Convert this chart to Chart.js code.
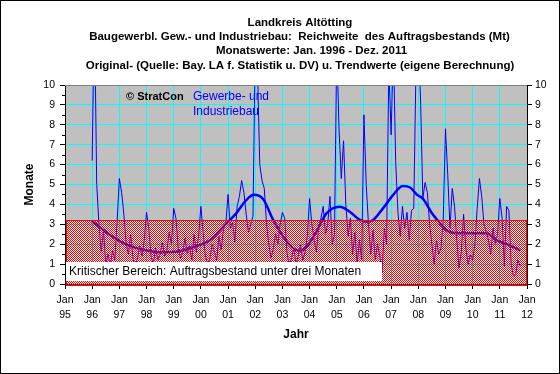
<!DOCTYPE html>
<html><head><meta charset="utf-8">
<script src="https://cdn.jsdelivr.net/npm/chart.js@4/dist/chart.umd.min.js"></script>
<style>html,body{margin:0;padding:0;background:#fff}canvas{display:block}</style>
</head><body>
<canvas id="c" width="560" height="374"></canvas>
<script>
// ---- Data ----
const titleLines = [
  'Landkreis Altötting',
  'Baugewerbl. Gew.- und Industriebau:  Reichweite  des Auftragsbestands (Mt)',
  'Monatswerte: Jan. 1996 - Dez. 2011',
  'Original- (Quelle: Bay. LA f. Statistik u. DV) u. Trendwerte (eigene Berechnung)'
];
const xTickYears = [1995,1996,1997,1998,1999,2000,2001,2002,2003,2004,2005,2006,2007,2008,2009,2010,2011,2012];
const xTickLabels = ['95','96','97','98','99','00','01','02','03','04','05','06','07','08','09','10','11','12'];
const firstYear = 1996;

// monthly values (Monate), Jan..Dec of each year
const v1996 = [6.2, 14, 5.0, 3.0, 1.6, 2.7, 1.0, 1.5, 0.9, 1.7, 1.2, 3.1];
const v1997 = [5.3, 4.6, 3.5, 2.0, 1.5, 2.5, 1.3, 0.9, 1.3, 1.9, 1.4, 2.2];
const v1998 = [3.6, 2.8, 1.4, 1.0, 1.8, 1.2, 1.5, 2.1, 1.4, 1.7, 2.6, 2.0];
const v1999 = [3.8, 3.3, 1.8, 1.3, 1.6, 2.3, 1.5, 1.9, 1.2, 2.5, 1.6, 2.4];
const v2000 = [3.9, 2.6, 1.4, 1.0, 1.3, 2.0, 1.6, 1.2, 2.4, 1.7, 2.8, 3.0];
const v2001 = [4.5, 2.8, 3.1, 2.1, 3.9, 4.4, 5.2, 4.6, 3.5, 2.6, 3.0, 3.4];
const v2002 = [12, 10.8, 6.0, 5.2, 4.8, 3.0, 2.0, 1.3, 1.8, 2.5, 2.0, 3.0];
const v2003 = [3.6, 3.3, 1.6, 0.9, 1.3, 1.8, 1.0, 1.4, 2.0, 1.2, 1.6, 2.4];
const v2004 = [4.3, 3.0, 2.2, 1.6, 2.8, 3.3, 3.9, 2.5, 3.0, 4.4, 2.0, 2.5];
const v2005 = [12, 7.8, 5.3, 7.2, 4.0, 2.4, 3.3, 1.5, 2.6, 1.0, 2.2, 1.2];
const v2006 = [8.5, 5.0, 3.0, 1.5, 2.7, 1.2, 2.0, 1.4, 0.6, 2.8, 2.0, 11];
const v2007 = [7.5, 12, 6.2, 3.6, 2.4, 3.9, 2.8, 3.6, 2.2, 3.7, 3.8, 11];
const v2008 = [12, 9.3, 4.3, 5.1, 4.6, 3.0, 2.0, 1.0, 2.2, 1.5, 1.8, 3.2];
const v2009 = [7.8, 5.5, 2.8, 4.8, 3.9, 2.2, 0.8, 1.6, 3.5, 1.8, 1.0, 1.5];
const v2010 = [1.2, 2.0, 3.8, 5.3, 4.4, 3.0, 2.6, 2.2, 1.5, 2.8, 2.0, 2.5];
const v2011 = [4.3, 3.3, 0.9, 3.9, 3.7, 1.0, 0.4, 0.5, 1.2, 0.9];

// trend (read at points along the smooth curve)
const trendYears  = [1996.0,1996.67,1997.27,1997.88,1998.5,1999.1,1999.7,2000.33,2000.94,2001.3,2001.67,2001.95,2002.3,2002.66,2003.03,2003.4,2003.64,2003.89,2004.25,2004.62,2005.11,2005.48,2005.85,2006.1,2006.34,2006.7,2007.07,2007.43,2007.7,2007.94,2008.16,2008.53,2008.8,2009.04,2009.4,2010.0,2010.5,2010.88,2011.25,2011.75];
const trendValues = [3.15,2.45,1.98,1.72,1.6,1.62,1.85,2.2,3.05,3.55,4.22,4.48,4.25,3.22,2.38,1.79,1.67,1.88,2.63,3.55,3.88,3.63,3.22,3.13,3.22,3.8,4.47,4.92,4.85,4.5,4.3,3.5,3.05,2.7,2.55,2.55,2.55,2.2,2.0,1.7];

const criticalLevel = 3.2;
const criticalText = 'Kritischer Bereich: Auftragsbestand unter drei Monaten';
const creditText = '© StratCon';
const seriesName = ['Gewerbe- und', 'Industriebau'];

// ---- Build ----
const monthly = [].concat(v1996,v1997,v1998,v1999,v2000,v2001,v2002,v2003,v2004,v2005,v2006,v2007,v2008,v2009,v2010,v2011);
const monthlyPts = monthly.map((v,i)=>({x: firstYear + i/12, y: v}));
const trendPts = trendYears.map((x,i)=>({x, y: trendValues[i]}));

const FONT = '"Liberation Sans", Arial, sans-serif';
const titleCenters = [300, 299.5, 311.5, 300];

const deco = {
  id: 'deco',
  beforeDraw(chart) {
    const {ctx, chartArea: a, scales: {y}} = chart;
    ctx.save();
    ctx.fillStyle = '#fff';
    ctx.fillRect(0, 0, chart.width, chart.height);
    const yc = Math.round(y.getPixelForValue(criticalLevel));
    ctx.fillStyle = '#C0C0C0';
    ctx.fillRect(a.left, a.top, a.right - a.left, yc - a.top);
    // title
    ctx.fillStyle = '#000';
    ctx.font = 'bold 11.5px ' + FONT;
    ctx.textAlign = 'center';
    ctx.textBaseline = 'middle';
    titleLines.forEach((t, i) => ctx.fillText(t, titleCenters[i], 22.5 + i * 14.4));
    ctx.restore();
  },
  afterDatasetsDraw(chart) {
    const {ctx, chartArea: a, scales: {y}} = chart;
    const yc = Math.round(y.getPixelForValue(criticalLevel));
    const y0 = Math.round(y.getPixelForValue(0));
    ctx.save();
    // hatched critical area: every second pixel red
    const x0 = Math.round(a.left) + 1, w = Math.round(a.right) - x0, h = y0 - yc + 1;
    const img = ctx.getImageData(x0, yc, w, h);
    const d = img.data;
    for (let j = 0; j < h; j++) {
      for (let i = 0; i < w; i++) {
        if (((x0 + i) + (yc + j)) % 2 === 0) {
          const k = (j * w + i) * 4;
          d[k] = 255; d[k + 1] = 0; d[k + 2] = 0; d[k + 3] = 255;
        }
      }
    }
    ctx.putImageData(img, x0, yc);
    ctx.strokeStyle = '#FF0000';
    ctx.lineWidth = 1;
    ctx.strokeRect(x0 + 0.5, yc + 0.5, w - 1, h);
    // plot top border
    ctx.strokeStyle = '#808080';
    ctx.beginPath();
    ctx.moveTo(a.left, Math.round(a.top) + 0.5);
    ctx.lineTo(a.right, Math.round(a.top) + 0.5);
    ctx.stroke();
    // minor ticks on left axis
    ctx.strokeStyle = '#000';
    ctx.beginPath();
    for (let v = 0.5; v < 10; v += 1) {
      const py = Math.round(y.getPixelForValue(v)) + 0.5;
      ctx.moveTo(a.left - 3, py); ctx.lineTo(a.left, py);
    }
    ctx.stroke();
    // white label box
    ctx.fillStyle = '#fff';
    ctx.fillRect(x0, 262, 316, 19);
    ctx.fillStyle = '#000';
    ctx.font = '12px ' + FONT;
    ctx.textBaseline = 'middle';
    ctx.textAlign = 'left';
    ctx.fillText(criticalText, x0 + 3, 271.5);
    // credit and series name
    ctx.font = 'bold 11px ' + FONT;
    ctx.fillText(creditText, 126, 97);
    ctx.fillStyle = '#0000FF';
    ctx.font = '12px ' + FONT;
    ctx.fillText(seriesName[0], 193, 97);
    ctx.fillText(seriesName[1], 193, 112);
    ctx.restore();
  },
  afterDraw(chart) {
    const {ctx} = chart;
    ctx.save();
    ctx.strokeStyle = '#000';
    ctx.lineWidth = 1;
    ctx.strokeRect(0.5, 0.5, chart.width - 1, chart.height - 1);
    ctx.restore();
  }
};

const tickFont = {family: FONT, size: 10.5};

new Chart(document.getElementById('c'), {
  type: 'line',
  data: {
    datasets: [
      {data: monthlyPts, borderColor: '#0000FF', borderWidth: 1, pointRadius: 0, tension: 0},
      {data: trendPts, borderColor: '#0000FF', borderWidth: 2.5, pointRadius: 0, cubicInterpolationMode: 'monotone'}
    ]
  },
  options: {
    responsive: false,
    animation: false,
    devicePixelRatio: 1,
    layout: {padding: {top: 85, left: 0, right: 0, bottom: 0}},
    plugins: {
      legend: {display: false},
      tooltip: {enabled: false},
      title: {display: false}
    },
    scales: {
      x: {
        type: 'linear', min: 1995, max: 2012,
        afterBuildTicks: s => { s.ticks = xTickYears.map(v => ({value: v})); },
        ticks: {
          color: '#000', font: {family: FONT, size: 10.5, lineHeight: '15px'},
          padding: 3.5, maxRotation: 0, autoSkip: false,
          callback: (v, i) => ['Jan', xTickLabels[i]]
        },
        grid: {
          color: c => (c.tick && c.tick.value > 1995 && c.tick.value < 2012) ? '#00FFFF' : 'rgba(0,0,0,0)',
          tickColor: '#000', tickLength: 5, lineWidth: 1
        },
        border: {color: '#000'},
        title: {display: true, text: 'Jahr', color: '#000',
          font: {family: FONT, size: 12, weight: 'bold', lineHeight: 1.2},
          padding: {top: 0, bottom: 31.8}},
        afterFit: s => { s.height = 90; }
      },
      y: {
        position: 'left', min: 0, max: 10,
        ticks: {stepSize: 1, color: '#000', font: tickFont, padding: 5},
        grid: {
          color: c => (c.tick && c.tick.value > 0 && c.tick.value < 10) ? '#00FFFF' : 'rgba(0,0,0,0)',
          tickColor: '#000', tickLength: 5, lineWidth: 1
        },
        border: {color: '#000'},
        title: {display: true, text: 'Monate', color: '#000',
          font: {family: FONT, size: 12, weight: 'bold', lineHeight: 1.2},
          padding: {top: 22.8, bottom: 0}},
        afterFit: s => { s.width = 65; }
      },
      y2: {
        position: 'right', min: 0, max: 10,
        ticks: {stepSize: 1, color: '#000', font: tickFont, padding: 3},
        grid: {drawOnChartArea: false, tickColor: '#000', tickLength: 5},
        border: {color: '#000'},
        afterFit: s => { s.width = 33; }
      }
    }
  },
  plugins: [deco]
});
</script>
</body></html>
